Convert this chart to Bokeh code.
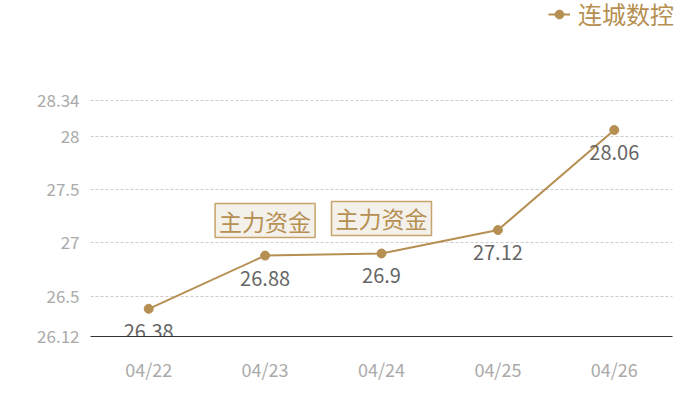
from bokeh.plotting import figure
from bokeh.models import Range1d, FixedTicker, Legend, LegendItem, ColumnDataSource
from bokeh.core.properties import value
from bokeh.embed import file_html
from bokeh.resources import INLINE

dates = ["04/22", "04/23", "04/24", "04/25", "04/26"]
prices = [26.38, 26.88, 26.9, 27.12, 28.06]
price_labels = ["26.38", "26.88", "26.9", "27.12", "28.06"]
y_ticks = [26.12, 26.5, 27, 27.5, 28, 28.34]
y_tick_labels = ["26.12", "26.5", "27", "27.5", "28", "28.34"]
series_name = "连城数控"
mark_dates = ["04/23", "04/24"]
mark_values = [26.88, 26.9]
mark_text = ["主力资金", "主力资金"]

FONT = "Noto Sans CJK SC"
GOLD = "#b68f52"
W, H = 684, 384

# layout in pixels (figure coordinates)
PLOT_L, PLOT_R, PLOT_T, PLOT_B = 90, 672, 100, 337
y_min, y_max = y_ticks[0], y_ticks[-1]
px_per_y = (PLOT_B - PLOT_T) / (y_max - y_min)
px_per_x = (PLOT_R - PLOT_L) / len(dates)
# frame extended to the top and right edge so the legend can sit inside it
y_top = y_min + PLOT_B / px_per_y
x_right = len(dates) - 0.5 + (W - PLOT_R) / px_per_x

idx = list(range(len(dates)))
pos = {d: i for i, d in enumerate(dates)}

p = figure(x_range=Range1d(-0.5, x_right), y_range=Range1d(y_min, y_top), width=W, height=H,
           output_backend="svg", toolbar_location=None,
           min_border_left=PLOT_L, min_border_right=0, min_border_top=0,
           min_border_bottom=H - PLOT_B)
p.outline_line_color = None

src = ColumnDataSource(dict(x=idx, y=prices, lab=price_labels))
r_line = p.line("x", "y", source=src, line_color=GOLD, line_width=2)
r_pts = p.scatter("x", "y", source=src, size=9, fill_color=GOLD, line_color=GOLD)

p.text("x", "y", text="lab", source=src, text_font=value(FONT), text_font_size="20px",
       text_color="#666666", text_align="center", text_baseline="top", y_offset=15)

msrc = ColumnDataSource(dict(x=[pos[d] for d in mark_dates], y=mark_values, t=mark_text))
p.text("x", "y", text="t", source=msrc, text_font=value(FONT), text_font_size="23px",
       text_color=GOLD, text_align="center", text_baseline="bottom", y_offset=-18,
       background_fill_color="#f4f0ea", border_line_color="#c6a36b", border_line_width=1.5,
       padding=dict(left=4, right=4, top=0, bottom=0))

p.yaxis.ticker = FixedTicker(ticks=y_ticks)
p.yaxis.major_label_overrides = dict(zip(y_ticks, y_tick_labels))
p.yaxis.axis_line_color = None
p.yaxis.major_tick_line_color = None
p.yaxis.minor_tick_line_color = None
p.yaxis.major_label_text_font = FONT
p.yaxis.major_label_text_font_size = "17px"
p.yaxis.major_label_text_color = "#aaaaaa"
p.yaxis.major_label_standoff = 5

p.xaxis.ticker = FixedTicker(ticks=idx)
p.xaxis.major_label_overrides = dict(zip(idx, dates))
p.xaxis.bounds = (-0.5, len(dates) - 0.5)
p.xaxis.axis_line_color = "#333333"
p.xaxis.axis_line_width = 1
p.xaxis.major_tick_line_color = None
p.xaxis.minor_tick_line_color = None
p.xaxis.major_label_text_font = FONT
p.xaxis.major_label_text_font_size = "18px"
p.xaxis.major_label_text_color = "#aaaaaa"
p.xaxis.major_label_standoff = 13

p.xgrid.grid_line_color = None
p.ygrid.grid_line_color = "#cccccc"
p.ygrid.grid_line_dash = "3 2"
p.ygrid.grid_line_width = 1
p.ygrid.cross_bounds = (-0.5, len(dates) - 0.5)

legend = Legend(items=[LegendItem(label=series_name, renderers=[r_line, r_pts])],
                location=(548 - PLOT_L, PLOT_B - 32), orientation="horizontal",
                label_text_font=FONT, label_text_font_size="24px", label_text_color=GOLD,
                glyph_width=22, glyph_height=28, label_height=28, label_standoff=8,
                background_fill_alpha=0, border_line_color=None, padding=0, margin=0)
p.add_layout(legend, "center")

open("out.html", "w").write(file_html(p, INLINE))
